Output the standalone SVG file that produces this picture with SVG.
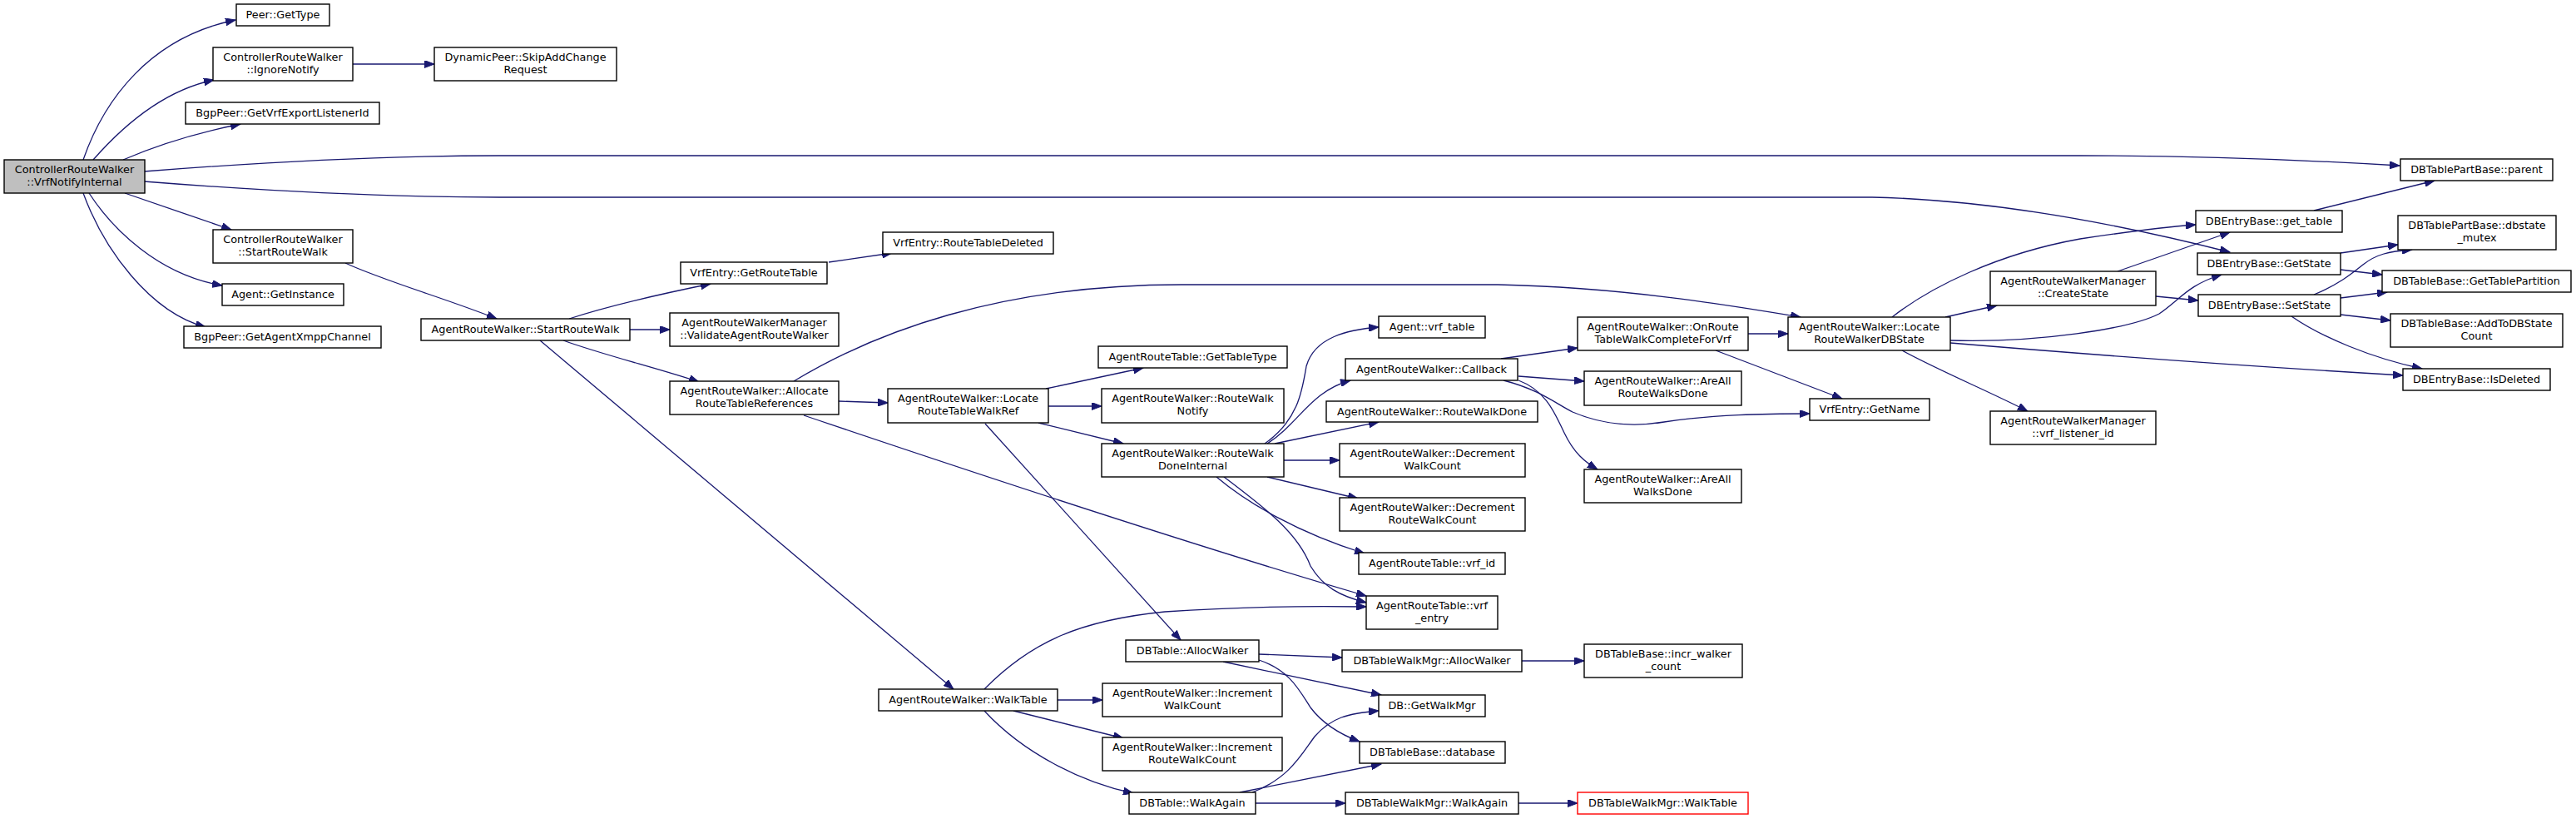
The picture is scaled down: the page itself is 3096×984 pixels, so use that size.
<svg xmlns="http://www.w3.org/2000/svg" width="3096" height="984" viewBox="0 0 3096 984">
<defs>
<marker id="ah" markerUnits="userSpaceOnUse" markerWidth="13" markerHeight="9" refX="12" refY="4.5" orient="auto">
<path d="M0,0 L12,4.5 L0,9 z" fill="#191970" stroke="#191970" stroke-width="1"/>
</marker>
<style>
.n rect{fill:#ffffff;stroke:#000000;stroke-width:1.4}
.n text{font-family:"DejaVu Sans",sans-serif;font-size:12.8px;fill:#000000;text-anchor:middle}
#n_root rect{fill:#bfbfbf}
#n_walktable2 rect{stroke:#ff0000}
#edges path{fill:none;stroke:#191970;stroke-width:1.3;marker-end:url(#ah)}
</style>
</defs>
<rect x="0" y="0" width="3096" height="984" fill="#ffffff"/>
<g id="edges">
<path d="M100,192 C125,120 180,45 283,24"/>
<path d="M112,192 C140,160 190,110 257,96"/>
<path d="M148,192 Q210,165 289,149"/>
<path d="M173,206 C300,196 450,187 600,187 L2500,187 C2650,187 2800,194 2884,199"/>
<path d="M173,218 C300,228 450,237 600,237 L2250,237 C2400,240 2550,270 2680,303"/>
<path d="M150,232 L278,276"/>
<path d="M107,232 C135,275 190,330 267,343"/>
<path d="M100,232 C125,300 180,375 247,393"/>
<path d="M424,77 L522,77"/>
<path d="M415,316 C460,337 540,360 597,383"/>
<path d="M684,383 C730,368 800,352 854,341"/>
<path d="M757,396 L805,396"/>
<path d="M677,409 C720,425 800,445 840,459"/>
<path d="M649,409 L1146,828"/>
<path d="M996,315 L1072,304"/>
<path d="M954,458 C1050,400 1200,342 1420,342 L1800,342 C1950,345 2080,367 2164,381"/>
<path d="M1008,482 L1067,484"/>
<path d="M966,499 C1200,578 1450,660 1642,716"/>
<path d="M1257,467 L1374,442"/>
<path d="M1260,488 L1324,488"/>
<path d="M1248,508 L1350,533"/>
<path d="M1184,509 L1419,769"/>
<path d="M1520,533 C1560,505 1565,470 1570,440 C1580,405 1620,396 1657,393"/>
<path d="M1523,533 C1560,510 1575,470 1623,457"/>
<path d="M1532,533 L1657,507"/>
<path d="M1543,553 L1610,553"/>
<path d="M1523,573 L1632,599"/>
<path d="M1462,573 C1500,605 1560,640 1640,665"/>
<path d="M1471,573 C1520,610 1560,640 1575,680 C1590,705 1610,716 1642,724"/>
<path d="M1183,828 C1240,770 1300,745 1400,735 C1500,728 1580,728 1642,729"/>
<path d="M1804,431 L1896,418"/>
<path d="M1825,452 L1904,458"/>
<path d="M1807,457 C1850,468 1870,485 1890,495 C1930,512 1970,512 2000,507 C2060,498 2120,497 2175,497"/>
<path d="M1825,457 C1860,470 1870,500 1880,520 C1892,545 1905,555 1920,564"/>
<path d="M2101,401 L2149,401"/>
<path d="M2062,421 L2214,479"/>
<path d="M2274,381 C2320,345 2400,305 2500,287 C2560,278 2600,273 2639,270"/>
<path d="M2338,381 L2400,367"/>
<path d="M2344,409 C2450,412 2560,395 2595,377 C2620,360 2630,342 2670,330"/>
<path d="M2344,412 C2500,425 2700,440 2888,451"/>
<path d="M2286,421 C2330,445 2390,470 2437,494"/>
<path d="M2545,326 L2680,279"/>
<path d="M2591,356 L2642,361"/>
<path d="M2781,253 L2926,217"/>
<path d="M2813,304 L2882,294"/>
<path d="M2813,324 L2863,330"/>
<path d="M2781,354 C2810,342 2825,330 2840,318 C2855,306 2870,302 2899,300"/>
<path d="M2813,358 L2869,351"/>
<path d="M2813,378 L2873,385"/>
<path d="M2754,380 C2790,405 2850,430 2911,443"/>
<path d="M1513,786 L1613,790"/>
<path d="M1470,795 L1660,835"/>
<path d="M1513,793 C1550,805 1562,830 1575,850 C1590,870 1610,882 1634,891"/>
<path d="M1829,794 L1904,794"/>
<path d="M1271,841 L1325,841"/>
<path d="M1218,854 L1350,887"/>
<path d="M1183,854 C1230,905 1300,940 1362,953"/>
<path d="M1505,952 C1550,935 1565,905 1580,885 C1600,862 1620,857 1657,854"/>
<path d="M1490,952 L1660,918"/>
<path d="M1509,965 L1617,965"/>
<path d="M1825,965 L1896,965"/>
</g>
<g id="n_root" class="n"><rect x="5" y="192" width="169" height="40"/><text x="89.5" y="207.5">ControllerRouteWalker</text><text x="89.5" y="222.5">::VrfNotifyInternal</text></g>
<g id="n_peer_gettype" class="n"><rect x="284" y="5" width="112" height="26"/><text x="340" y="22">Peer::GetType</text></g>
<g id="n_ignorenotify" class="n"><rect x="256" y="57" width="168" height="40"/><text x="340" y="72.5">ControllerRouteWalker</text><text x="340" y="87.5">::IgnoreNotify</text></g>
<g id="n_skipadd" class="n"><rect x="522" y="57" width="219" height="40"/><text x="631.5" y="72.5">DynamicPeer::SkipAddChange</text><text x="631.5" y="87.5">Request</text></g>
<g id="n_getvrfexport" class="n"><rect x="223" y="123" width="233" height="26"/><text x="339.5" y="140">BgpPeer::GetVrfExportListenerId</text></g>
<g id="n_crw_startroutewalk" class="n"><rect x="256" y="276" width="168" height="40"/><text x="340" y="291.5">ControllerRouteWalker</text><text x="340" y="306.5">::StartRouteWalk</text></g>
<g id="n_getinstance" class="n"><rect x="267" y="341" width="146" height="26"/><text x="340" y="358">Agent::GetInstance</text></g>
<g id="n_getagentxmpp" class="n"><rect x="221" y="392" width="237" height="26"/><text x="339.5" y="409">BgpPeer::GetAgentXmppChannel</text></g>
<g id="n_arw_startroutewalk" class="n"><rect x="506" y="383" width="251" height="26"/><text x="631.5" y="400">AgentRouteWalker::StartRouteWalk</text></g>
<g id="n_routetabledeleted" class="n"><rect x="1061" y="279" width="205" height="26"/><text x="1163.5" y="296">VrfEntry::RouteTableDeleted</text></g>
<g id="n_getroutetable" class="n"><rect x="818" y="315" width="176" height="26"/><text x="906" y="332">VrfEntry::GetRouteTable</text></g>
<g id="n_validate" class="n"><rect x="805" y="376" width="203" height="40"/><text x="906.5" y="391.5">AgentRouteWalkerManager</text><text x="906.5" y="406.5">::ValidateAgentRouteWalker</text></g>
<g id="n_allocate" class="n"><rect x="805" y="458" width="203" height="40"/><text x="906.5" y="473.5">AgentRouteWalker::Allocate</text><text x="906.5" y="488.5">RouteTableReferences</text></g>
<g id="n_locatewalkref" class="n"><rect x="1067" y="467" width="193" height="41"/><text x="1163.5" y="482.5">AgentRouteWalker::Locate</text><text x="1163.5" y="497.5">RouteTableWalkRef</text></g>
<g id="n_gettabletype" class="n"><rect x="1320" y="416" width="227" height="26"/><text x="1433.5" y="433">AgentRouteTable::GetTableType</text></g>
<g id="n_routewalknotify" class="n"><rect x="1324" y="467" width="219" height="41"/><text x="1433.5" y="482.5">AgentRouteWalker::RouteWalk</text><text x="1433.5" y="497.5">Notify</text></g>
<g id="n_routewalkdoneinternal" class="n"><rect x="1324" y="533" width="219" height="40"/><text x="1433.5" y="548.5">AgentRouteWalker::RouteWalk</text><text x="1433.5" y="563.5">DoneInternal</text></g>
<g id="n_dbtable_allocwalker" class="n"><rect x="1353" y="769" width="160" height="26"/><text x="1433" y="786">DBTable::AllocWalker</text></g>
<g id="n_walktable" class="n"><rect x="1056" y="828" width="215" height="26"/><text x="1163.5" y="845">AgentRouteWalker::WalkTable</text></g>
<g id="n_incwalkcount" class="n"><rect x="1325" y="821" width="216" height="40"/><text x="1433" y="836.5">AgentRouteWalker::Increment</text><text x="1433" y="851.5">WalkCount</text></g>
<g id="n_incroutewalkcount" class="n"><rect x="1325" y="886" width="216" height="40"/><text x="1433" y="901.5">AgentRouteWalker::Increment</text><text x="1433" y="916.5">RouteWalkCount</text></g>
<g id="n_dbtable_walkagain" class="n"><rect x="1357" y="952" width="152" height="26"/><text x="1433" y="969">DBTable::WalkAgain</text></g>
<g id="n_vrf_table" class="n"><rect x="1657" y="380" width="128" height="26"/><text x="1721" y="397">Agent::vrf_table</text></g>
<g id="n_callback" class="n"><rect x="1617" y="431" width="207" height="26"/><text x="1720.5" y="448">AgentRouteWalker::Callback</text></g>
<g id="n_onroute" class="n"><rect x="1896" y="381" width="205" height="40"/><text x="1998.5" y="396.5">AgentRouteWalker::OnRoute</text><text x="1998.5" y="411.5">TableWalkCompleteForVrf</text></g>
<g id="n_locatedbstate" class="n"><rect x="2149" y="381" width="195" height="40"/><text x="2246.5" y="396.5">AgentRouteWalker::Locate</text><text x="2246.5" y="411.5">RouteWalkerDBState</text></g>
<g id="n_areallroutewalksdone" class="n"><rect x="1904" y="446" width="189" height="41"/><text x="1998.5" y="461.5">AgentRouteWalker::AreAll</text><text x="1998.5" y="476.5">RouteWalksDone</text></g>
<g id="n_getname" class="n"><rect x="2175" y="479" width="144" height="26"/><text x="2247" y="496">VrfEntry::GetName</text></g>
<g id="n_routewalkdone" class="n"><rect x="1594" y="482" width="254" height="25"/><text x="1721" y="499">AgentRouteWalker::RouteWalkDone</text></g>
<g id="n_decwalkcount" class="n"><rect x="1610" y="533" width="223" height="40"/><text x="1721.5" y="548.5">AgentRouteWalker::Decrement</text><text x="1721.5" y="563.5">WalkCount</text></g>
<g id="n_decroutewalkcount" class="n"><rect x="1610" y="598" width="223" height="40"/><text x="1721.5" y="613.5">AgentRouteWalker::Decrement</text><text x="1721.5" y="628.5">RouteWalkCount</text></g>
<g id="n_areallwalksdone" class="n"><rect x="1904" y="564" width="189" height="40"/><text x="1998.5" y="579.5">AgentRouteWalker::AreAll</text><text x="1998.5" y="594.5">WalksDone</text></g>
<g id="n_vrf_id" class="n"><rect x="1633" y="664" width="176" height="26"/><text x="1721" y="681">AgentRouteTable::vrf_id</text></g>
<g id="n_vrf_entry" class="n"><rect x="1642" y="716" width="158" height="40"/><text x="1721" y="731.5">AgentRouteTable::vrf</text><text x="1721" y="746.5">_entry</text></g>
<g id="n_walkmgr_allocwalker" class="n"><rect x="1613" y="781" width="216" height="26"/><text x="1721" y="798">DBTableWalkMgr::AllocWalker</text></g>
<g id="n_incr_walker_count" class="n"><rect x="1904" y="774" width="190" height="40"/><text x="1999" y="789.5">DBTableBase::incr_walker</text><text x="1999" y="804.5">_count</text></g>
<g id="n_getwalkmgr" class="n"><rect x="1657" y="835" width="128" height="26"/><text x="1721" y="852">DB::GetWalkMgr</text></g>
<g id="n_database" class="n"><rect x="1634" y="891" width="175" height="26"/><text x="1721.5" y="908">DBTableBase::database</text></g>
<g id="n_walkmgr_walkagain" class="n"><rect x="1617" y="952" width="208" height="26"/><text x="1721" y="969">DBTableWalkMgr::WalkAgain</text></g>
<g id="n_walktable2" class="n"><rect x="1896" y="952" width="205" height="26"/><text x="1998.5" y="969">DBTableWalkMgr::WalkTable</text></g>
<g id="n_parent" class="n"><rect x="2885" y="191" width="183" height="26"/><text x="2976.5" y="208">DBTablePartBase::parent</text></g>
<g id="n_get_table" class="n"><rect x="2639" y="253" width="176" height="26"/><text x="2727" y="270">DBEntryBase::get_table</text></g>
<g id="n_dbstate_mutex" class="n"><rect x="2882" y="259" width="190" height="41"/><text x="2977" y="274.5">DBTablePartBase::dbstate</text><text x="2977" y="289.5">_mutex</text></g>
<g id="n_getstate" class="n"><rect x="2641" y="304" width="172" height="26"/><text x="2727" y="321">DBEntryBase::GetState</text></g>
<g id="n_createstate" class="n"><rect x="2392" y="326" width="199" height="41"/><text x="2491.5" y="341.5">AgentRouteWalkerManager</text><text x="2491.5" y="356.5">::CreateState</text></g>
<g id="n_gettablepartition" class="n"><rect x="2863" y="325" width="227" height="26"/><text x="2976.5" y="342">DBTableBase::GetTablePartition</text></g>
<g id="n_setstate" class="n"><rect x="2642" y="354" width="171" height="26"/><text x="2727.5" y="371">DBEntryBase::SetState</text></g>
<g id="n_addtodbstatecount" class="n"><rect x="2873" y="377" width="207" height="40"/><text x="2976.5" y="392.5">DBTableBase::AddToDBState</text><text x="2976.5" y="407.5">Count</text></g>
<g id="n_isdeleted" class="n"><rect x="2888" y="443" width="177" height="26"/><text x="2976.5" y="460">DBEntryBase::IsDeleted</text></g>
<g id="n_vrf_listener_id" class="n"><rect x="2392" y="494" width="199" height="40"/><text x="2491.5" y="509.5">AgentRouteWalkerManager</text><text x="2491.5" y="524.5">::vrf_listener_id</text></g>
</svg>
